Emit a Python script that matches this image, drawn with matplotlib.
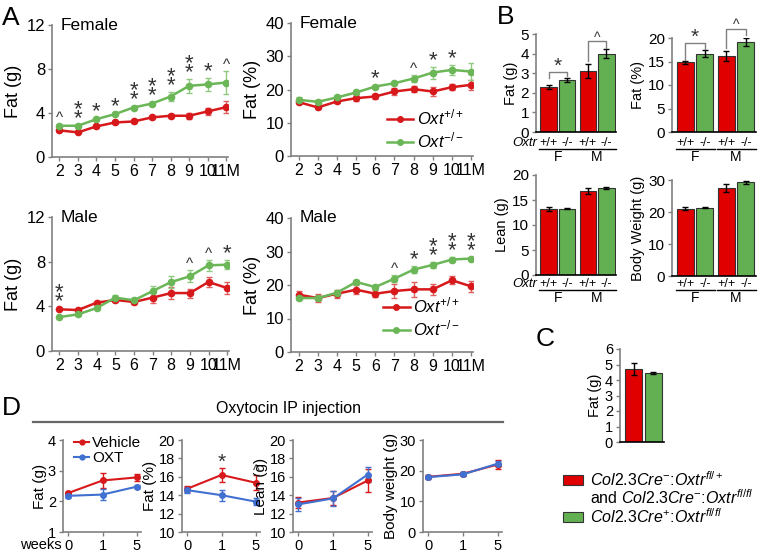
import matplotlib
matplotlib.use("Agg")
import matplotlib.pyplot as plt
from matplotlib.patches import Rectangle
from matplotlib.lines import Line2D
from matplotlib.transforms import blended_transform_factory

plt.rcParams['font.family'] = ['Liberation Sans', 'DejaVu Sans']
plt.rcParams['mathtext.fontset'] = 'custom'
plt.rcParams['mathtext.rm'] = 'Liberation Sans'
plt.rcParams['mathtext.it'] = 'Liberation Sans:italic'
plt.rcParams['mathtext.bf'] = 'Liberation Sans:bold'

# ---------------- data ----------------
months = [2, 3, 4, 5, 6, 7, 8, 9, 10, 11]
month_labels = ['2', '3', '4', '5', '6', '7', '8', '9', '10', '11M']

# A, female fat (g)
f_fatg_wt = [2.42, 2.24, 2.78, 3.14, 3.23, 3.60, 3.75, 3.75, 4.14, 4.53]
f_fatg_wt_err = [0.12, 0.10, 0.12, 0.10, 0.12, 0.12, 0.15, 0.25, 0.30, 0.55]
f_fatg_ko = [2.84, 2.84, 3.44, 3.90, 4.50, 4.86, 5.50, 6.47, 6.60, 6.77]
f_fatg_ko_err = [0.10, 0.10, 0.15, 0.10, 0.15, 0.15, 0.40, 0.65, 0.60, 1.05]
f_fatg_sig = ['^', '**', '*', '*', '**', '**', '**', '**', '*', '^']

# A, female fat (%)
f_fatp_wt = [16.2, 14.6, 16.4, 17.4, 17.9, 19.4, 20.1, 19.4, 20.7, 21.4]
f_fatp_wt_err = [0.5, 0.6, 0.5, 0.8, 0.8, 1.2, 0.9, 1.3, 1.0, 1.5]
f_fatp_ko = [16.9, 16.3, 17.6, 19.1, 20.9, 21.9, 23.3, 25.1, 25.9, 25.4]
f_fatp_ko_err = [0.8, 0.5, 0.5, 0.5, 0.5, 0.5, 1.0, 1.8, 1.5, 2.5]
f_fatp_sig = ['', '', '', '', '*', '', '^', '*', '*', '']

# A, male fat (g)
m_fatg_wt = [3.73, 3.67, 4.33, 4.57, 4.39, 4.78, 5.19, 5.19, 6.18, 5.64]
m_fatg_wt_err = [0.10, 0.10, 0.15, 0.20, 0.20, 0.45, 0.55, 0.40, 0.45, 0.50]
m_fatg_ko = [3.04, 3.28, 3.85, 4.78, 4.54, 5.37, 6.18, 6.69, 7.67, 7.73]
m_fatg_ko_err = [0.10, 0.10, 0.10, 0.20, 0.25, 0.45, 0.50, 0.55, 0.50, 0.40]
m_fatg_sig = ['**', '', '', '', '', '', '', '^', '^', '*']

# A, male fat (%)
m_fatp_wt = [17.1, 16.1, 17.4, 18.6, 17.4, 18.2, 18.7, 18.7, 21.4, 19.6]
m_fatp_wt_err = [1.0, 1.2, 1.2, 1.3, 1.0, 2.0, 2.2, 1.6, 1.2, 1.6]
m_fatp_ko = [16.1, 16.1, 17.7, 20.9, 19.4, 21.9, 24.6, 26.0, 27.6, 27.9]
m_fatp_ko_err = [0.6, 0.6, 0.8, 0.6, 0.6, 1.0, 1.0, 0.9, 0.7, 0.6]
m_fatp_sig = ['', '', '', '', '', '^', '*', '**', '**', '**']

# B (order: F +/+, F -/-, M +/+, M -/-)
geno_labels = ['+/+', '-/-', '+/+', '-/-']
sex_labels = ['F', 'M']
b_fatg = [2.28, 2.65, 3.12, 4.00]
b_fatg_err = [0.10, 0.10, 0.36, 0.21]
b_fatp = [14.8, 16.7, 16.1, 19.1]
b_fatp_err = [0.35, 0.8, 1.1, 0.8]
b_lean = [13.2, 13.3, 16.8, 17.4]
b_lean_err = [0.35, 0.1, 0.6, 0.25]
b_bw = [21.0, 21.4, 27.5, 29.3]
b_bw_err = [0.5, 0.15, 1.2, 0.4]

# C
c_fat = [4.72, 4.45]
c_fat_err = [0.38, 0.08]

# D
weeks = ['0', '1', '5']
d_fatg_veh = [2.27, 2.68, 2.78]
d_fatg_veh_err = [0.05, 0.25, 0.12]
d_fatg_oxt = [2.18, 2.22, 2.48]
d_fatg_oxt_err = [0.07, 0.18, 0.05]
d_fatp_veh = [14.7, 16.2, 15.35]
d_fatp_veh_err = [0.3, 0.8, 0.8]
d_fatp_oxt = [14.55, 14.0, 13.3]
d_fatp_oxt_err = [0.35, 0.6, 0.35]
d_fatp_sig = ['', '*', '^']
d_lean_veh = [13.2, 13.7, 15.6]
d_lean_veh_err = [0.6, 0.8, 1.2]
d_lean_oxt = [13.0, 13.65, 16.25]
d_lean_oxt_err = [0.7, 0.8, 0.8]
d_bw_veh = [18.0, 19.0, 22.0]
d_bw_veh_err = [0.5, 0.5, 1.5]
d_bw_oxt = [17.9, 18.8, 22.3]
d_bw_oxt_err = [0.5, 0.7, 0.8]

# ---------------- style ----------------
RED = '#d7191c'
GREEN = '#6bb657'
BLUE = '#4070d0'
BAR_RED = '#e00000'
BAR_GREEN = '#63b052'
AXC = '#808080'
SIGC = '#333333'

W, H = 762, 553
fig = plt.figure(figsize=(W / 100, H / 100), dpi=100)


def px_axes(l, t, r, b):
    return fig.add_axes([l / W, 1 - b / H, (r - l) / W, (b - t) / H])


def style(ax, fs):
    for s in ['top', 'right']:
        ax.spines[s].set_visible(False)
    for s in ['left', 'bottom']:
        ax.spines[s].set_color(AXC)
        ax.spines[s].set_linewidth(1.2)
    ax.tick_params(colors=AXC, labelcolor='black', labelsize=fs,
                   length=3, width=1, pad=2)


def sig_mark(ax, x, top, s, gap, star_fs=16, caret_fs=11):
    # place significance marks so that glyph centres sit 'gap' px above 'top'
    if s == '^':
        ax.annotate('^', xy=(x, top), xytext=(0, gap - 0.51 * caret_fs * 100 / 72),
                    textcoords='offset pixels', ha='center', va='baseline',
                    fontsize=caret_fs, color=SIGC, annotation_clip=False)
    else:
        for k in range(len(s)):
            ax.annotate('*', xy=(x, top),
                        xytext=(0, gap + 9 * k - 0.38 * star_fs * 100 / 72),
                        textcoords='offset pixels', ha='center', va='baseline',
                        fontsize=star_fs, color=SIGC, annotation_clip=False)


def line_panel(ax, x, wt, wt_err, ko, ko_err, ylim, yticks, ylabel, title, sig):
    ax.errorbar(x, wt, yerr=wt_err, color=RED, marker='o', ms=4.5, lw=1.8,
                elinewidth=1, capsize=2.5, ecolor='#e06060')
    ax.errorbar(x, ko, yerr=ko_err, color=GREEN, marker='o', ms=4.5, lw=1.8,
                elinewidth=1, capsize=2.5, ecolor='#8fca80')
    ax.set_ylim(*ylim)
    ax.set_yticks(yticks)
    ax.set_xticks(x)
    ax.set_xticklabels(month_labels)
    ax.set_xlim(1.6, 11.1)
    ax.set_ylabel(ylabel, fontsize=13, labelpad=3)
    ax.text(0.05, 1.0, title, transform=ax.transAxes, va='center', fontsize=12.5)
    style(ax, 12)
    ax.tick_params(axis='x', labelsize=11.5)
    for i, s in enumerate(sig):
        if s:
            top = max(wt[i] + wt_err[i], ko[i] + ko_err[i])
            sig_mark(ax, x[i], top, s, 10 if s == '^' else 9)


def leg_oxt(ax, anchor):
    h = [Line2D([], [], color=RED, marker='o', ms=4, lw=1.8),
         Line2D([], [], color=GREEN, marker='o', ms=4, lw=1.8)]
    ax.legend(h, [r'$\mathit{Oxt}^{+/+}$', r'$\mathit{Oxt}^{-/-}$'], loc='lower right',
              bbox_to_anchor=anchor, frameon=False, fontsize=12, handlelength=1.6,
              handletextpad=0.2, borderaxespad=0, borderpad=0, labelspacing=0.2)


# ---------------- panel A ----------------
ax = px_axes(52, 25, 228, 157)
line_panel(ax, months, f_fatg_wt, f_fatg_wt_err, f_fatg_ko, f_fatg_ko_err,
           (0, 12), [0, 4, 8, 12], 'Fat (g)', 'Female', f_fatg_sig)

ax = px_axes(291, 23, 473, 156)
line_panel(ax, months, f_fatp_wt, f_fatp_wt_err, f_fatp_ko, f_fatp_ko_err,
           (0, 40), [0, 10, 20, 30, 40], 'Fat (%)', 'Female', f_fatp_sig)
leg_oxt(ax, (0.95, 0.04))

ax = px_axes(52, 217, 229, 351)
line_panel(ax, months, m_fatg_wt, m_fatg_wt_err, m_fatg_ko, m_fatg_ko_err,
           (0, 12), [0, 4, 8, 12], 'Fat (g)', 'Male', m_fatg_sig)

ax = px_axes(291, 218, 473, 352)
line_panel(ax, months, m_fatp_wt, m_fatp_wt_err, m_fatp_ko, m_fatp_ko_err,
           (0, 40), [0, 10, 20, 30, 40], 'Fat (%)', 'Male', m_fatp_sig)
leg_oxt(ax, (0.93, 0.1))

# ---------------- panel B ----------------
bx = [0, 1, 2.1, 3.1]
bcol = [BAR_RED, BAR_GREEN, BAR_RED, BAR_GREEN]


def bar_panel(ax, vals, errs, ylim, yticks, ylabel, y_geno, y_line, y_sex, oxtr):
    ax.bar(bx, vals, width=0.88, color=bcol, edgecolor='#333333', linewidth=0.8)
    ax.errorbar(bx, vals, yerr=errs, fmt='none', ecolor='black', elinewidth=1, capsize=2.5)
    ax.set_xlim(-0.68, 3.62)
    ax.set_ylim(*ylim)
    ax.set_yticks(yticks)
    ax.set_xticks([])
    ax.set_ylabel(ylabel, fontsize=10.5, labelpad=2)
    style(ax, 11)
    ax.spines['bottom'].set_color('black')
    tr = blended_transform_factory(ax.transData, fig.transFigure)
    for i, g in enumerate(geno_labels):
        ax.text(bx[i], 1 - y_geno / H, g, transform=tr, ha='center', va='center', fontsize=9)
    for k, s in enumerate(sex_labels):
        c = (bx[2 * k] + bx[2 * k + 1]) / 2
        ax.plot([c - 1.0, c + 1.0], [1 - y_line / H] * 2, transform=tr, color='black',
                lw=1, clip_on=False)
        ax.text(c, 1 - y_sex / H, s, transform=tr, ha='center', va='center', fontsize=10)
    if oxtr:
        ax.text(-0.62, 1 - y_geno / H, 'Oxtr', transform=tr, ha='right', va='center',
                fontsize=9.5, style='italic')


def bracket(ax, i, j, y, yi, yj, mark):
    ax.plot([bx[i], bx[i], bx[j], bx[j]], [yi, y, y, yj], color=AXC, lw=1, clip_on=False)
    sig_mark(ax, (bx[i] + bx[j]) / 2, y, mark, 8 if mark == '*' else 7, star_fs=15, caret_fs=10)


ax = px_axes(536, 34, 616, 132)
bar_panel(ax, b_fatg, b_fatg_err, (0, 5), [0, 1, 2, 3, 4, 5], 'Fat (g)', 142.5, 149, 157, True)
bracket(ax, 0, 1, 3.05, 2.74, 2.86, '*')
bracket(ax, 2, 3, 4.62, 3.63, 4.31, '^')

ax = px_axes(672, 38, 756, 132)
bar_panel(ax, b_fatp, b_fatp_err, (0, 20), [0, 5, 10, 15, 20], 'Fat (%)', 142.5, 149, 157, False)
bracket(ax, 0, 1, 18.9, 15.4, 17.6, '*')
bracket(ax, 2, 3, 21.9, 17.9, 20.7, '^')

ax = px_axes(536, 175, 616, 275)
bar_panel(ax, b_lean, b_lean_err, (0, 20), [0, 5, 10, 15, 20], 'Lean (g)', 284, 290, 298, True)

ax = px_axes(672, 180, 756, 276)
bar_panel(ax, b_bw, b_bw_err, (0, 30), [0, 10, 20, 30], 'Body Weight (g)', 284, 290, 298, False)

# ---------------- panel C ----------------
ax = px_axes(620, 349, 664, 442)
ax.bar([0, 1], c_fat, width=0.85, color=[BAR_RED, BAR_GREEN], edgecolor='#333333', linewidth=0.8)
ax.errorbar([0, 1], c_fat, yerr=c_fat_err, fmt='none', ecolor='black', elinewidth=1, capsize=2.5)
ax.set_xlim(-0.7, 1.55)
ax.set_ylim(0, 6)
ax.set_yticks(range(7))
ax.set_xticks([])
ax.set_ylabel('Fat (g)', fontsize=10.5, labelpad=2)
style(ax, 10.5)
ax.spines['bottom'].set_color('black')

# legend for C
leg_rows = [
    (480, BAR_RED, r'$\mathit{Col2.3Cre}^{-}$:$\mathit{Oxtr}^{fl/+}$'),
    (517, BAR_GREEN, r'$\mathit{Col2.3Cre}^{+}$:$\mathit{Oxtr}^{fl/fl}$'),
]
for y, c, t in leg_rows:
    fig.patches.append(Rectangle((563 / W, 1 - (y + 5) / H), 20 / W, 10 / H,
                                 transform=fig.transFigure, facecolor=c,
                                 edgecolor='#333333', linewidth=0.8))
    fig.text(590 / W, 1 - y / H, t, ha='left', va='center', fontsize=11.5)
fig.text(590 / W, 1 - 498 / H, r'and $\mathit{Col2.3Cre}^{-}$:$\mathit{Oxtr}^{fl/fl}$',
         ha='left', va='center', fontsize=11.5)

# ---------------- panel D ----------------
fig.text(288 / W, 1 - 408 / H, 'Oxytocin IP injection', ha='center', va='center', fontsize=11.5)
fig.add_artist(Line2D([33 / W, 503 / W], [1 - 422 / H] * 2, color='#666666', lw=1.6))

dx = [0, 1, 2]


def d_panel(l, r, veh, veh_err, oxt, oxt_err, ylim, yticks, ylabel, sig=None):
    ax = px_axes(l, 440, r, 532)
    ax.errorbar(dx, veh, yerr=veh_err, color=RED, marker='o', ms=4, lw=1.5,
                elinewidth=1, capsize=2.5)
    ax.errorbar(dx, oxt, yerr=oxt_err, color=BLUE, marker='o', ms=4, lw=1.5,
                elinewidth=1, capsize=2.5)
    ax.set_xlim(-0.15, 2.12)
    ax.set_ylim(*ylim)
    ax.set_yticks(yticks)
    ax.set_xticks(dx)
    ax.set_xticklabels(weeks)
    ax.set_ylabel(ylabel, fontsize=11, labelpad=1)
    style(ax, 10.5)
    if sig:
        for i, s in enumerate(sig):
            if s:
                top = max(veh[i] + veh_err[i], oxt[i] + oxt_err[i])
                sig_mark(ax, dx[i], top, s, 8, star_fs=15, caret_fs=10)
    return ax


ax = d_panel(63, 141, d_fatg_veh, d_fatg_veh_err, d_fatg_oxt, d_fatg_oxt_err,
             (1, 4), [1, 2, 3, 4], 'Fat (g)')
hd = [Line2D([], [], color=RED, marker='o', ms=3.5, lw=1.5),
      Line2D([], [], color=BLUE, marker='o', ms=3.5, lw=1.5)]
ax.legend(hd, ['Vehicle', 'OXT'], loc='upper left', bbox_to_anchor=(0.14, 1.04),
          frameon=False, fontsize=11, handlelength=1.0, handletextpad=0.2,
          borderaxespad=0, borderpad=0, labelspacing=0.05)
fig.text(62 / W, 1 - 545 / H, 'weeks', ha='right', va='center', fontsize=10.5)

d_panel(182, 260, d_fatp_veh, d_fatp_veh_err, d_fatp_oxt, d_fatp_oxt_err,
        (10, 20), [10, 12, 14, 16, 18, 20], 'Fat (%)', d_fatp_sig)
d_panel(293, 372, d_lean_veh, d_lean_veh_err, d_lean_oxt, d_lean_oxt_err,
        (10, 20), [10, 12, 14, 16, 18, 20], 'Lean (g)')
d_panel(423, 502, d_bw_veh, d_bw_veh_err, d_bw_oxt, d_bw_oxt_err,
        (0, 30), [0, 10, 20, 30], 'Body weight (g)')

# ---------------- panel letters ----------------
for x, y, s in [(2, 6, 'A'), (497, 5, 'B'), (536, 327, 'C'), (2, 396, 'D')]:
    fig.text(x / W, 1 - y / H, s, ha='left', va='top', fontsize=19)

fig.savefig('out.png', dpi=100)
